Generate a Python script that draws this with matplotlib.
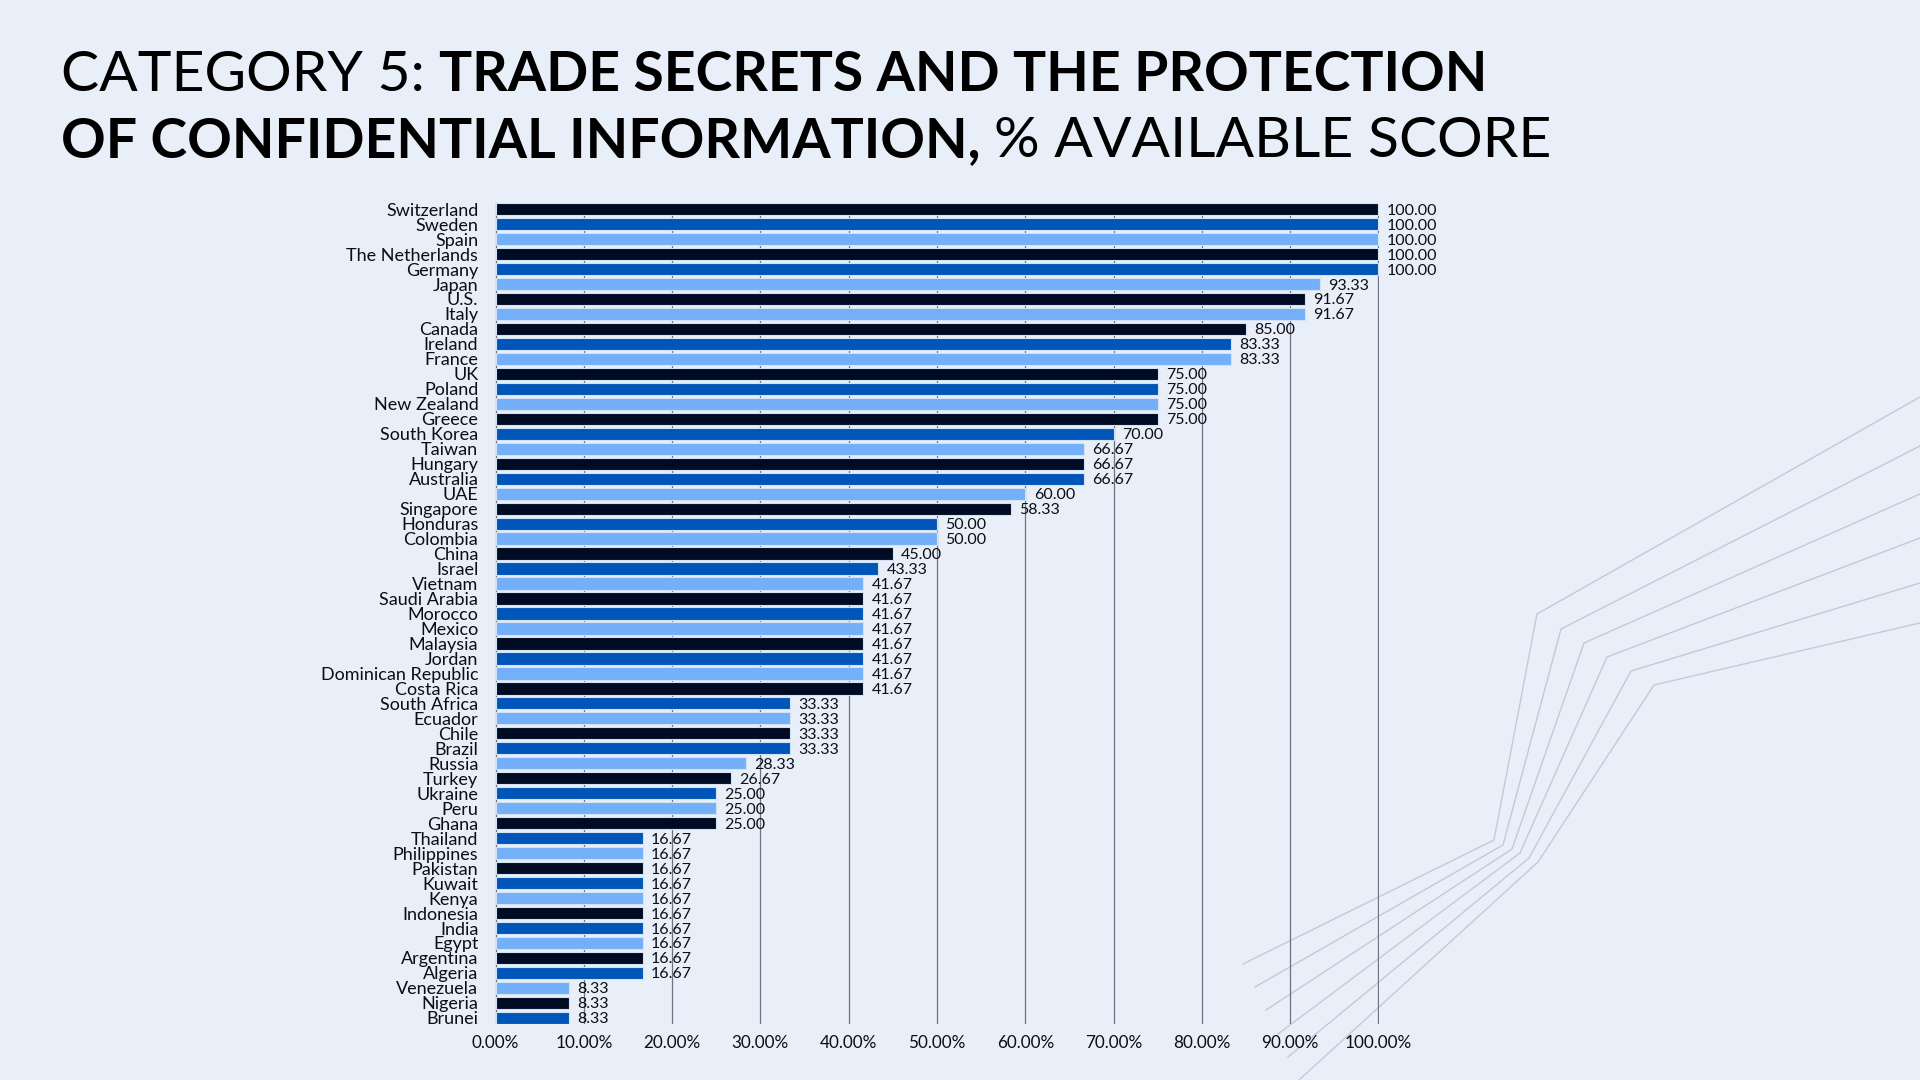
import matplotlib.pyplot as plt
from matplotlib.lines import Line2D

countries = [
    "Switzerland", "Sweden", "Spain", "The Netherlands", "Germany", "Japan", "U.S.",
    "Italy", "Canada", "Ireland", "France", "UK", "Poland", "New Zealand", "Greece",
    "South Korea", "Taiwan", "Hungary", "Australia", "UAE", "Singapore", "Honduras",
    "Colombia", "China", "Israel", "Vietnam", "Saudi Arabia", "Morocco", "Mexico",
    "Malaysia", "Jordan", "Dominican Republic", "Costa Rica", "South Africa", "Ecuador",
    "Chile", "Brazil", "Russia", "Turkey", "Ukraine", "Peru", "Ghana", "Thailand",
    "Philippines", "Pakistan", "Kuwait", "Kenya", "Indonesia", "India", "Egypt",
    "Argentina", "Algeria", "Venezuela", "Nigeria", "Brunei",
]
scores = [
    100.00, 100.00, 100.00, 100.00, 100.00, 93.33, 91.67,
    91.67, 85.00, 83.33, 83.33, 75.00, 75.00, 75.00, 75.00,
    70.00, 66.67, 66.67, 66.67, 60.00, 58.33, 50.00,
    50.00, 45.00, 43.33, 41.67, 41.67, 41.67, 41.67,
    41.67, 41.67, 41.67, 41.67, 33.33, 33.33,
    33.33, 33.33, 28.33, 26.67, 25.00, 25.00, 25.00, 16.67,
    16.67, 16.67, 16.67, 16.67, 16.67, 16.67, 16.67,
    16.67, 16.67, 8.33, 8.33, 8.33,
]
# colour key per bar: d = navy, m = mid blue, l = light blue
shade = list("dmldmldl" "dmldmldmldmldmldmldmldmldmldmldmldmldmldmldmldm")
x_ticks = [0, 10, 20, 30, 40, 50, 60, 70, 80, 90, 100]

palette = {"d": "#000c24", "m": "#0055b8", "l": "#74b0fa"}
bg = "#e8eff9"
ink = "#0d0d14"
font = ["Lato", "DejaVu Sans"]

W, H = 1920, 1080
fig = plt.figure(figsize=(19.2, 10.8), dpi=100, facecolor=bg)

# decorative lines bottom right (pixel coords), drawn first so they sit behind
decor = [
    [(1243, 964), (1494, 840), (1537, 614), (1920, 397)],
    [(1255, 987), (1503, 845), (1561, 629), (1920, 446)],
    [(1266, 1010), (1512, 849), (1584, 643), (1920, 494)],
    [(1278, 1034), (1520, 853), (1607, 657), (1920, 538)],
    [(1288, 1057), (1529, 858), (1631, 671), (1920, 583)],
    [(1299, 1080), (1538, 862), (1654, 685), (1920, 623)],
]
for pts in decor:
    xs = [p[0] / W for p in pts]
    ys = [1 - p[1] / H for p in pts]
    fig.add_artist(Line2D(xs, ys, transform=fig.transFigure, color="#c3cad6",
                          linewidth=1.0, zorder=-1))

# plot area: x=0 at 495px, x=100 at 1379px, bars from 203px to 1024px
ax = fig.add_axes([495 / W, 1 - 1024 / H, (1379 - 495) / W, (1024 - 203) / H])
ax.set_facecolor("none")

ypos = list(range(len(countries)))
colors = [palette[c] for c in shade]
ax.barh(ypos, scores, height=0.82, color=colors, edgecolor="#d3e1f5",
        linewidth=0.8, zorder=2)

for y, v in zip(ypos, scores):
    ax.annotate(f"{v:.2f}", (v, y), xytext=(6, 0), textcoords="offset points",
                va="center_baseline", ha="left", fontsize=11.5, family=font, color=ink,
                zorder=3, annotation_clip=False)

ax.set_xlim(-0.06, 100.06)
ax.set_ylim(len(countries) - 1 + 0.41, -0.41)
ax.set_xticks(x_ticks)
ax.set_xticklabels([f"{t:.2f}%" for t in x_ticks], family=font, fontsize=12.3, color=ink)
ax.set_yticks(ypos)
ax.set_yticklabels(countries, family=font, fontsize=13, color=ink)
ax.tick_params(axis="both", length=0)
ax.tick_params(axis="x", pad=8)
ax.tick_params(axis="y", pad=12)
ax.grid(axis="x", color="#6e7280", linewidth=0.9, zorder=0)
ax.set_axisbelow(True)
for s in ax.spines.values():
    s.set_visible(False)

# title, two lines with mixed weights
renderer = fig.canvas.get_renderer()
title_lines = [
    (1 - 90.6 / H, [("CATEGORY 5:", "normal"), ("TRADE SECRETS AND THE PROTECTION", "bold")]),
    (1 - 156.7 / H, [("OF CONFIDENTIAL INFORMATION,", "bold"), ("% AVAILABLE SCORE", "normal")]),
]
sizes = {"normal": 41, "bold": 39.8}
for yb, parts in title_lines:
    x = 61 / W
    for txt, wt in parts:
        t = fig.text(x, yb, txt, fontsize=sizes[wt], fontweight=wt, family=font,
                     color="#000000", va="baseline", ha="left")
        bb = t.get_window_extent(renderer=renderer)
        x = bb.x1 / W + 14 / W

fig.savefig("out.png", dpi=100, facecolor=bg)
